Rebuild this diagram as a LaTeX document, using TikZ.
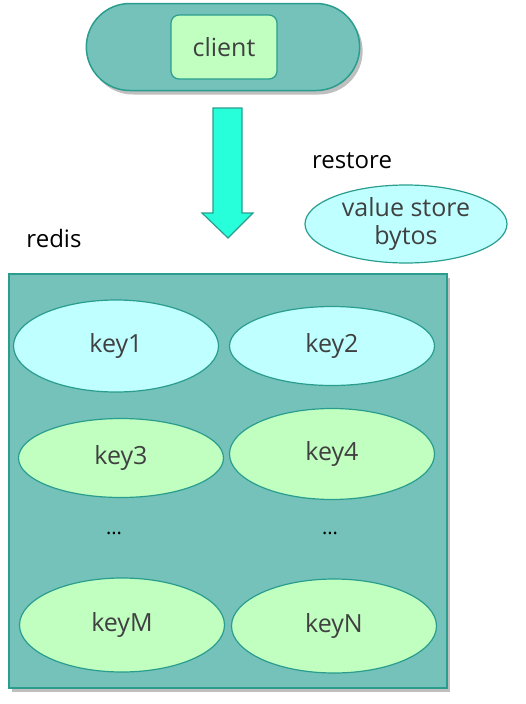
\documentclass[tikz,border=0pt]{standalone}
\usepackage{fontspec}
\setmainfont{Open Sans}
\usetikzlibrary{shapes.geometric,shapes.misc,shadows,positioning}
\definecolor{tealfill}{HTML}{74C2B9}
\definecolor{tealline}{HTML}{2A9D8F}
\definecolor{lgreen}{HTML}{C0FFC0}
\definecolor{lcyan}{HTML}{C0FFFF}
\definecolor{aqua}{HTML}{26FFD9}
\definecolor{txt}{HTML}{404040}
\tikzset{
  keyell/.style={ellipse, draw=tealline, line width=1.2pt, text=txt, font=\fontsize{25}{29}\selectfont, inner sep=0pt},
  sh/.style={drop shadow={shadow xshift=3pt, shadow yshift=-4pt, fill=black, opacity=0.25}},
  lbl/.style={text=black, font=\fontsize{24}{28}\selectfont}
}
\begin{document}
\begin{tikzpicture}[x=1pt,y=-1pt]
\useasboundingbox (0,0) rectangle (526,704);
% client pill
\node[rounded rectangle, draw=tealline, fill=tealfill, line width=1.5pt, minimum width=280pt, minimum height=87pt, sh] (pill) at (223,47) {};
\node[rounded corners=8pt, draw=tealline, fill=lgreen, line width=1.2pt, minimum width=106pt, minimum height=64pt, text=txt, font=\fontsize{25}{29}\selectfont] (client) at (224,47) {client};
% arrow
\draw[draw=tealline, fill=aqua, line width=1.2pt] (213,108) -- (242,108) -- (242,213) -- (253,213) -- (228,238) -- (202,213) -- (213,213) -- cycle;
\coordinate (arrowtip) at (228,238);
% labels
\node[lbl] (restore) at (352,161) {restore};
\node[lbl] (redis) at (54,238) {redis};
\node[keyell, fill=lcyan, minimum width=202pt, minimum height=78pt, align=center, font=\fontsize{25}{28}\selectfont] (vs) at (406,224) {value store\\bytos};
% redis box
\node[draw=tealline, fill=tealfill, line width=1.5pt, minimum width=438pt, minimum height=414pt, sh] (box) at (228,481) {};
\node[keyell, fill=lcyan, minimum width=205pt, minimum height=92pt] (k1) at (116,346) {key1};
\node[keyell, fill=lcyan, minimum width=205pt, minimum height=79pt] (k2) at (332,346) {key2};
\node[keyell, fill=lgreen, minimum width=205pt, minimum height=79pt] (k3) at (121,458) {key3};
\node[keyell, fill=lgreen, minimum width=205pt, minimum height=91pt] (k4) at (332,454) {key4};
\node[text=black, font=\fontsize{20}{24}\selectfont] (d1) at (114,533) {...};
\node[text=black, font=\fontsize{20}{24}\selectfont] (d2) at (330,533) {...};
\node[keyell, fill=lgreen, minimum width=205pt, minimum height=94pt] (kM) at (122,625) {keyM};
\node[keyell, fill=lgreen, minimum width=205pt, minimum height=94pt] (kN) at (334,626) {keyN};
\end{tikzpicture}
\end{document}
